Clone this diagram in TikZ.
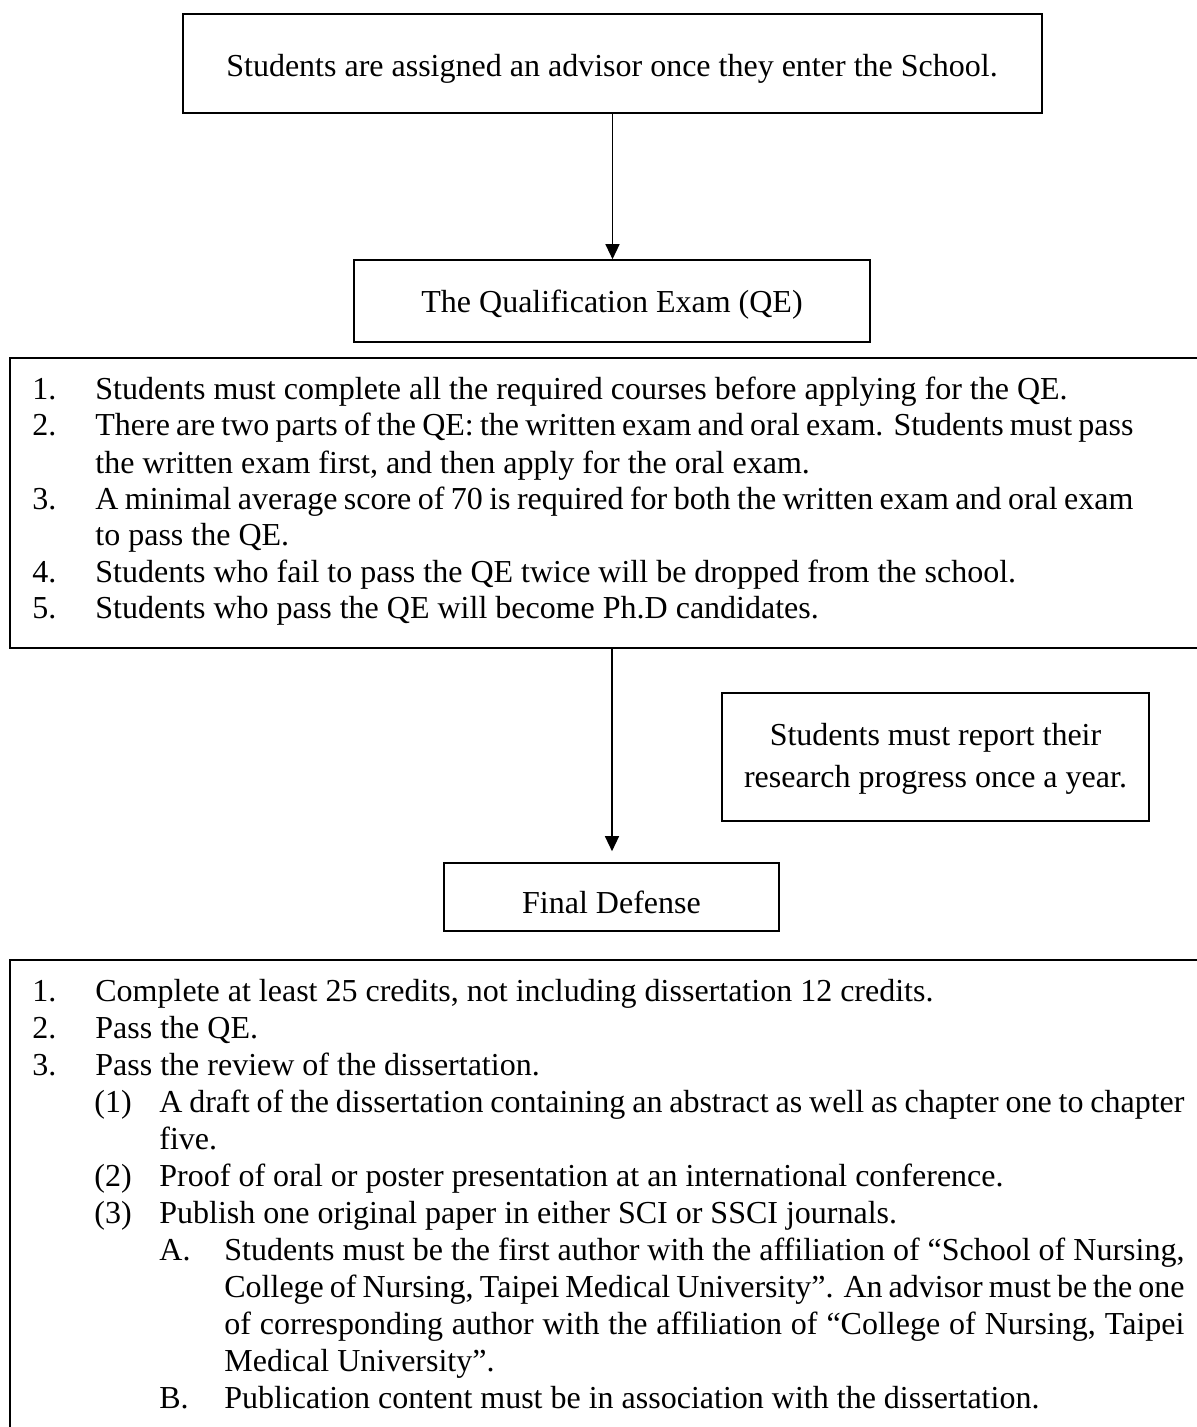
\documentclass[tikz,border=0pt]{standalone}
\usepackage{fontspec}
\setmainfont{Liberation Serif}
\usetikzlibrary{arrows.meta}
\newcommand\jstline[2]{\makebox[#1][s]{#2}}
\begin{document}
\begin{tikzpicture}[x=0.5pt,y=-0.5pt,
  box/.style={draw, line width=0.8pt, inner sep=0pt},
  lbl/.style={inner sep=0pt, align=center, font=\fontsize{16pt}{21pt}\selectfont},
  ln/.style={anchor=base west, inner sep=0pt, font=\fontsize{16pt}{18pt}\selectfont},
  arr/.style={line width=0.65pt, -{Triangle[length=7.5pt,width=7pt]}}]
\useasboundingbox (0,0) rectangle (1197,1427);
\clip (0,0) rectangle (1197,1427);
\fill[white] (0,0) rectangle (1197,1427);

% boxes
\node[box, minimum width=429.5pt, minimum height=49.5pt] (top) at (612.5,63.5) {};
\node[lbl] (toptext) at (612,69) {Students are assigned an advisor once they enter the School.};
\node[box, minimum width=258pt, minimum height=41pt] (qe) at (612,301) {};
\node[lbl] (qetext) at (612,305) {The Qualification Exam (QE)};
\node[box, minimum width=602pt, minimum height=145pt] (list1) at (612,503) {};
\node[box, minimum width=213.5pt, minimum height=64pt] (report) at (935.5,757) {};
\node[lbl] (reporttext) at (935.5,759) {Students must report their\\research progress once a year.};
\node[box, minimum width=167.5pt, minimum height=34pt] (final) at (611.5,897) {};
\node[lbl] (finaltext) at (611.5,902) {Final Defense};
\node[box, minimum width=602pt, minimum height=245pt] (list2) at (612,1205) {};

% connectors
\draw[arr] (top.south) -- (top.south |- qe.north);
\draw[arr, shorten >=5.5pt] (list1.south) -- (list1.south |- final.north);

% list 1
\node[ln] (n11) at (32,400) {1.};
\node[ln] (t11) at (95,400) {Students must complete all the required courses before applying for the QE.};
\node[ln] (n12) at (32,436) {2.};
\node[ln] (t12) at (95,436) {\jstline{519pt}{There are two parts of the QE: the written exam and oral exam. Students must pass}};
\node[ln] (t12b) at (95,473) {the written exam first, and then apply for the oral exam.};
\node[ln] (n13) at (32,509) {3.};
\node[ln] (t13) at (95,509) {\jstline{519pt}{A minimal average score of 70 is required for both the written exam and oral exam}};
\node[ln] (t13b) at (95,545) {to pass the QE.};
\node[ln] (n14) at (32,582) {4.};
\node[ln] (t14) at (95,582) {Students who fail to pass the QE twice will be dropped from the school.};
\node[ln] (n15) at (32,618) {5.};
\node[ln] (t15) at (95,618) {Students who pass the QE will become Ph.D candidates.};

% list 2
\node[ln] (m1) at (32,1001) {1.};
\node[ln] (u1) at (95,1001) {Complete at least 25 credits, not including dissertation 12 credits.};
\node[ln] (m2) at (32,1038) {2.};
\node[ln] (u2) at (95,1038) {Pass the QE.};
\node[ln] (m3) at (32,1075) {3.};
\node[ln] (u3) at (95,1075) {Pass the review of the dissertation.};
\node[ln] (m31) at (94,1112) {(1)};
\node[ln] (u31) at (159,1112) {\jstline{512.5pt}{A draft of the dissertation containing an abstract as well as chapter one to chapter}};
\node[ln] (u31b) at (159,1149) {five.};
\node[ln] (m32) at (94,1186) {(2)};
\node[ln] (u32) at (159,1186) {Proof of oral or poster presentation at an international conference.};
\node[ln] (m33) at (94,1223) {(3)};
\node[ln] (u33) at (159,1223) {Publish one original paper in either SCI or SSCI journals.};
\node[ln] (mA) at (159,1260) {A.};
\node[ln] (uA1) at (224,1260) {\jstline{480pt}{Students must be the first author with the affiliation of “School of Nursing,}};
\node[ln] (uA2) at (224,1297) {\jstline{480pt}{College of Nursing, Taipei Medical University”. An advisor must be the one}};
\node[ln] (uA3) at (224,1334) {\jstline{480pt}{of corresponding author with the affiliation of “College of Nursing, Taipei}};
\node[ln] (uA4) at (224,1371) {Medical University”.};
\node[ln] (mB) at (159,1408) {B.};
\node[ln] (uB) at (224,1408) {Publication content must be in association with the dissertation.};
\end{tikzpicture}
\end{document}
